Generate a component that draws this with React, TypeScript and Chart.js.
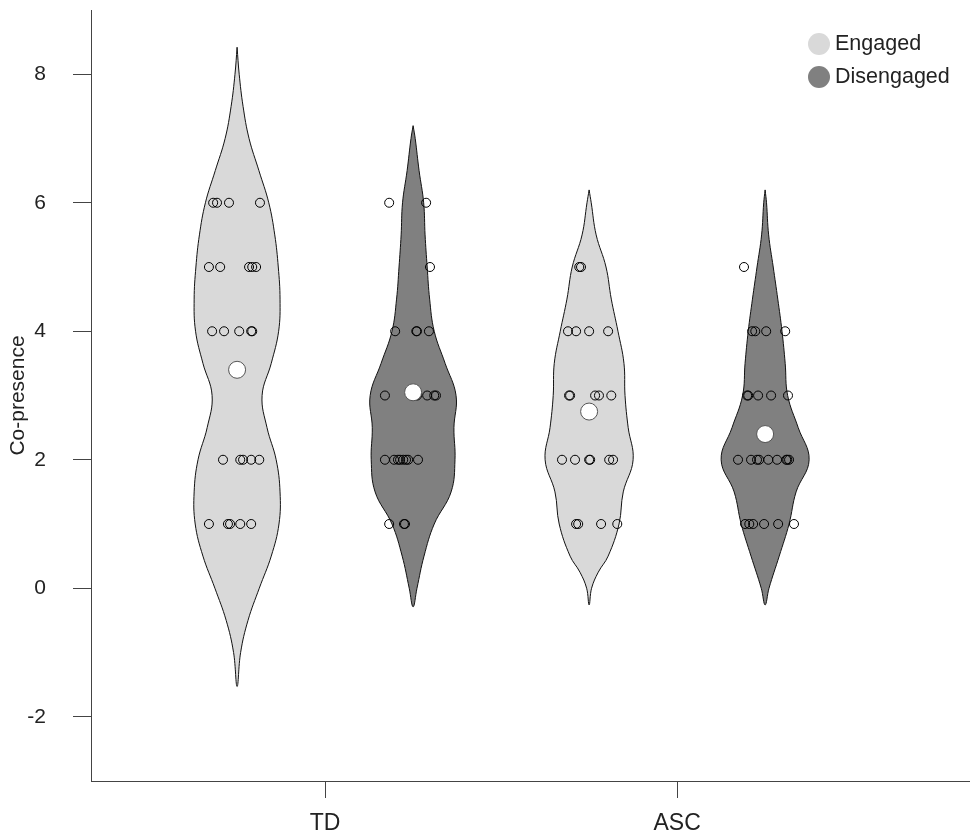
import React, { useEffect, useRef } from 'react';
import { Chart, registerables } from 'chart.js';

Chart.register(...registerables);

// ---------- data ----------
const categories = ['TD', 'ASC'];
const groups = ['Engaged', 'Disengaged'];
const yTicks = [-2, 0, 2, 4, 6, 8];

// Violin outlines: y value and half-width (x-axis units)
const tdEngagedProfileY = [8.42, 8.0, 7.5, 7.0, 6.5, 6.0, 5.5, 5.0, 4.5, 4.0, 3.5, 3.0, 2.5, 2.0, 1.5, 1.0, 0.5, 0.0, -0.5, -1.0, -1.53];
const tdEngagedHalfWidth = [0, 0.006, 0.017, 0.034, 0.062, 0.090, 0.107, 0.117, 0.122, 0.118, 0.097, 0.071, 0.085, 0.111, 0.122, 0.119, 0.097, 0.063, 0.031, 0.010, 0];

const tdDisengagedProfileY = [7.2, 7.0, 6.5, 6.0, 5.5, 5.0, 4.5, 4.0, 3.5, 3.0, 2.5, 2.0, 1.5, 1.0, 0.5, 0.0, -0.29];
const tdDisengagedHalfWidth = [0, 0.006, 0.017, 0.030, 0.034, 0.040, 0.047, 0.060, 0.091, 0.122, 0.116, 0.119, 0.108, 0.060, 0.031, 0.011, 0];

const ascEngagedProfileY = [6.2, 6.0, 5.5, 5.0, 4.5, 4.0, 3.5, 3.0, 2.5, 2.0, 1.5, 1.0, 0.5, 0.25, 0.0, -0.26];
const ascEngagedHalfWidth = [0, 0.006, 0.020, 0.048, 0.063, 0.082, 0.099, 0.102, 0.111, 0.125, 0.097, 0.085, 0.054, 0.026, 0.007, 0];

const ascDisengagedProfileY = [6.2, 6.0, 5.5, 5.0, 4.5, 4.0, 3.5, 3.0, 2.5, 2.0, 1.5, 1.0, 0.5, 0.0, -0.26];
const ascDisengagedHalfWidth = [0, 0.004, 0.010, 0.023, 0.036, 0.048, 0.057, 0.064, 0.094, 0.125, 0.088, 0.068, 0.040, 0.011, 0];

// Individual observations (y) and their horizontal jitter (x-axis units)
const tdEngagedY = [6, 6, 6, 6, 5, 5, 5, 5, 5, 4, 4, 4, 4, 4, 2, 2, 2, 2, 2, 1, 1, 1, 1, 1];
const tdEngagedJitter = [-0.068, -0.057, -0.023, 0.065, -0.080, -0.048, 0.034, 0.043, 0.054, -0.071, -0.037, 0.006, 0.040, 0.043, -0.040, 0.009, 0.017, 0.040, 0.063, -0.080, -0.026, -0.020, 0.009, 0.040];

const tdDisengagedY = [6, 6, 5, 4, 4, 4, 4, 3, 3, 3, 3, 3, 3, 2, 2, 2, 2, 2, 2, 2, 2, 1, 1, 1];
const tdDisengagedJitter = [-0.068, 0.037, 0.048, -0.051, 0.009, 0.011, 0.045, -0.080, 0.0, 0.011, 0.040, 0.060, 0.065, -0.080, -0.054, -0.043, -0.037, -0.028, -0.020, -0.014, 0.014, -0.068, -0.026, -0.023];

const ascEngagedY = [5, 5, 4, 4, 4, 4, 3, 3, 3, 3, 3, 2, 2, 2, 2, 2, 2, 1, 1, 1, 1];
const ascEngagedJitter = [-0.028, -0.023, -0.060, -0.037, 0.0, 0.054, -0.057, -0.054, 0.017, 0.028, 0.063, -0.077, -0.040, 0.0, 0.003, 0.057, 0.068, -0.037, -0.031, 0.034, 0.080];

const ascDisengagedY = [5, 4, 4, 4, 4, 3, 3, 3, 3, 3, 2, 2, 2, 2, 2, 2, 2, 2, 2, 1, 1, 1, 1, 1, 1];
const ascDisengagedJitter = [-0.060, -0.037, -0.028, 0.003, 0.057, -0.051, -0.048, -0.020, 0.017, 0.065, -0.077, -0.040, -0.023, -0.017, 0.009, 0.034, 0.060, 0.063, 0.068, -0.057, -0.045, -0.034, -0.003, 0.037, 0.082];

// Group means (TD-Engaged, TD-Disengaged, ASC-Engaged, ASC-Disengaged)
const meanValues = [3.4, 3.05, 2.75, 2.4];

// ---------- styling ----------
const GROUP_OFFSET = 0.25;
const groupColors = ['#d9d9d9', '#808080'];
const FONT = "'Liberation Sans', Arial, Helvetica, sans-serif";
const AXIS_COLOR = '#444444';
const TEXT_COLOR = '#222222';

const violinSets = [
  { cat: 0, grp: 0, py: tdEngagedProfileY, hw: tdEngagedHalfWidth, y: tdEngagedY, jit: tdEngagedJitter },
  { cat: 0, grp: 1, py: tdDisengagedProfileY, hw: tdDisengagedHalfWidth, y: tdDisengagedY, jit: tdDisengagedJitter },
  { cat: 1, grp: 0, py: ascEngagedProfileY, hw: ascEngagedHalfWidth, y: ascEngagedY, jit: ascEngagedJitter },
  { cat: 1, grp: 1, py: ascDisengagedProfileY, hw: ascDisengagedHalfWidth, y: ascDisengagedY, jit: ascDisengagedJitter },
];

function centerOf(cat: number, grp: number) {
  return cat + 1 + (grp === 0 ? -GROUP_OFFSET : GROUP_OFFSET);
}

function violinPolygon(c: number, py: number[], hw: number[]) {
  const pts: { x: number; y: number }[] = [];
  const n = py.length;
  pts.push({ x: c, y: py[0] });
  for (let i = 1; i < n - 1; i++) pts.push({ x: c + hw[i], y: py[i] });
  pts.push({ x: c, y: py[n - 1] });
  for (let i = n - 2; i >= 1; i--) pts.push({ x: c - hw[i], y: py[i] });
  pts.push({ x: c, y: py[0] });
  return pts;
}

const violinFillPlugin = {
  id: 'violinFill',
  beforeDatasetDraw(chart: any, args: any) {
    const ds = chart.data.datasets[args.index];
    if (!ds.violinFill) return;
    const ctx = chart.ctx;
    const a = chart.chartArea;
    ctx.save();
    ctx.beginPath();
    ctx.rect(a.left, a.top, a.right - a.left, a.bottom - a.top);
    ctx.clip();
    ctx.beginPath();
    args.meta.dataset.path(ctx);
    ctx.closePath();
    ctx.fillStyle = ds.violinFill;
    ctx.fill();
    ctx.restore();
  },
};

const legendPlugin = {
  id: 'insideLegend',
  afterDraw(chart: any) {
    const ctx = chart.ctx;
    const a = chart.chartArea;
    ctx.save();
    ctx.font = `21.5px ${FONT}`;
    ctx.textBaseline = 'middle';
    ctx.textAlign = 'left';
    groups.forEach((g, i) => {
      const cx = a.right - 151;
      const cy = a.top + 34 + i * 33;
      ctx.beginPath();
      ctx.arc(cx, cy, 11, 0, Math.PI * 2);
      ctx.fillStyle = groupColors[i];
      ctx.fill();
      ctx.fillStyle = TEXT_COLOR;
      ctx.fillText(g, cx + 16, cy);
    });
    ctx.restore();
  },
};

export default function App() {
  const ref = useRef<HTMLCanvasElement | null>(null);

  useEffect(() => {
    if (!ref.current) return;
    const datasets: any[] = [];

    violinSets.forEach((v) => {
      const c = centerOf(v.cat, v.grp);
      datasets.push({
        label: `${categories[v.cat]} ${groups[v.grp]} violin`,
        data: violinPolygon(c, v.py, v.hw),
        showLine: true,
        tension: 0.4,
        pointRadius: 0,
        borderColor: '#111111',
        borderWidth: 1,
        backgroundColor: groupColors[v.grp],
        violinFill: groupColors[v.grp],
        fill: false,
        order: 3,
      });
    });

    violinSets.forEach((v) => {
      const c = centerOf(v.cat, v.grp);
      datasets.push({
        label: `${categories[v.cat]} ${groups[v.grp]}`,
        data: v.y.map((y, i) => ({ x: c + v.jit[i], y })),
        showLine: false,
        pointRadius: 4.5,
        pointBorderColor: '#000000',
        pointBackgroundColor: 'rgba(0,0,0,0)',
        pointBorderWidth: 1,
        order: 2,
      });
    });

    datasets.push({
      label: 'Means',
      data: violinSets.map((v, i) => ({ x: centerOf(v.cat, v.grp), y: meanValues[i] })),
      showLine: false,
      pointRadius: 8.5,
      pointBorderColor: '#555555',
      pointBackgroundColor: '#ffffff',
      pointBorderWidth: 1,
      order: 1,
    });

    const chart = new Chart(ref.current, {
      type: 'scatter',
      data: { datasets },
      plugins: [violinFillPlugin, legendPlugin],
      options: {
        responsive: false,
        animation: false,
        events: [],
        layout: { autoPadding: false, padding: { top: 10, right: 0, left: 0, bottom: 0 } },
        plugins: {
          legend: { display: false },
          tooltip: { enabled: false },
        },
        scales: {
          x: {
            type: 'linear',
            min: 0.335,
            max: 2.832,
            afterBuildTicks: (s: any) => {
              s.ticks = categories.map((_, i) => ({ value: i + 1 }));
            },
            afterFit: (s: any) => {
              s.height = 56;
              s.paddingLeft = 0;
              s.paddingRight = 0;
            },
            grid: {
              display: true,
              drawOnChartArea: false,
              drawTicks: true,
              tickLength: 17,
              tickColor: AXIS_COLOR,
              tickWidth: 1,
              color: AXIS_COLOR,
            },
            border: { display: true, color: AXIS_COLOR, width: 1 },
            ticks: {
              autoSkip: false,
              maxRotation: 0,
              padding: 12,
              color: TEXT_COLOR,
              font: { family: FONT, size: 23 },
              callback: (_v: any, i: number) => categories[i],
            },
          },
          y: {
            type: 'linear',
            min: -3,
            max: 9,
            afterBuildTicks: (s: any) => {
              s.ticks = yTicks.map((v) => ({ value: v }));
            },
            afterFit: (s: any) => {
              s.width = 91;
              s.paddingTop = 0;
              s.paddingBottom = 0;
            },
            grid: {
              display: true,
              drawOnChartArea: false,
              drawTicks: true,
              tickLength: 18,
              tickColor: AXIS_COLOR,
              tickWidth: 1,
              color: AXIS_COLOR,
            },
            border: { display: true, color: AXIS_COLOR, width: 1 },
            ticks: {
              padding: 27,
              color: TEXT_COLOR,
              font: { family: FONT, size: 21 },
            },
            title: {
              display: true,
              text: 'Co-presence',
              color: TEXT_COLOR,
              font: { family: FONT, size: 21 },
              padding: { top: 6, bottom: 0 },
            },
          },
        },
      } as any,
    });
    return () => chart.destroy();
  }, []);

  return (
    <div style={{ position: 'absolute', left: 0, top: 0, width: 970, height: 837, background: '#ffffff' }}>
      <canvas ref={ref} width={970} height={837} />
    </div>
  );
}
